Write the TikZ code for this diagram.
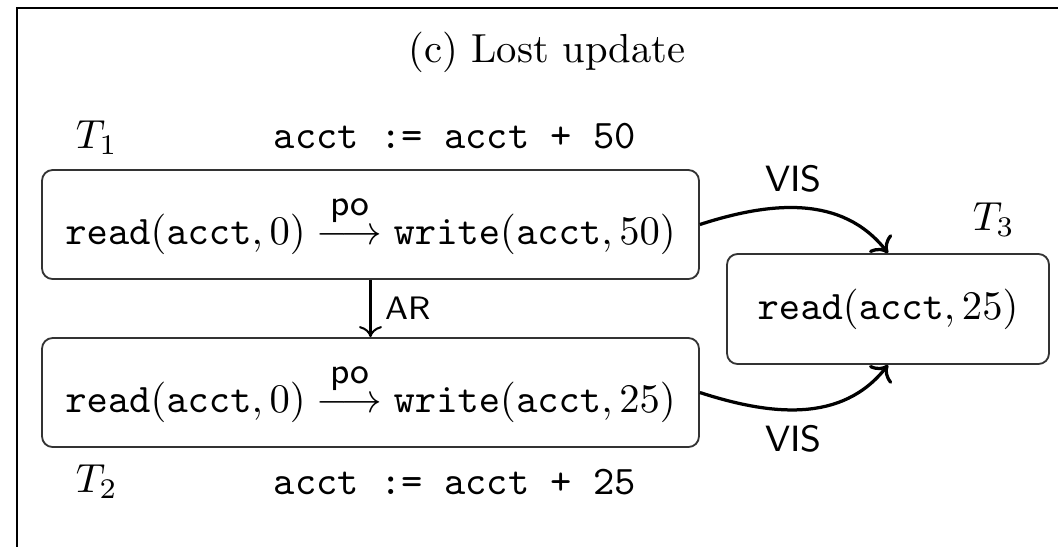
\documentclass[tikz,border=0pt]{standalone}
\usepackage{amsmath}
\usetikzlibrary{arrows.meta}
\newcommand{\poarrow}{\mathrel{\mathop{\longrightarrow}\limits^{\raisebox{1.6pt}{\small\sffamily po}}}}
\begin{document}
\begin{tikzpicture}[x=0.2463pt,y=0.2463pt,
  txbox/.style={draw=black!80, line width=0.45pt, rounded corners=2.6pt, inner sep=0pt},
  vis/.style={->, line width=0.8pt},
  lbl/.style={font=\sffamily}]
\useasboundingbox (0,0) rectangle (1058,-547);
% frame
\draw[line width=0.6pt] (1058,-8) -- (17,-8) -- (17,-547);
% title
\node (title) at (547,-52) {(c) Lost update};
% boxes
\node[txbox, minimum width=161.8pt, minimum height=26.85pt] (b1) at (370.5,-224.5)
  {$\mathtt{read}(\mathtt{acct},0)\poarrow\mathtt{write}(\mathtt{acct},50)$};
\node[txbox, minimum width=161.8pt, minimum height=26.85pt] (b2) at (370.5,-392.5)
  {$\mathtt{read}(\mathtt{acct},0)\poarrow\mathtt{write}(\mathtt{acct},25)$};
\node[txbox, minimum width=79.3pt, minimum height=27.1pt] (b3) at (888,-309)
  {$\mathtt{read}(\mathtt{acct},25)$};
% labels
\node[anchor=base west, inner sep=0pt] (t1) at (75,-148) {$T_1$};
\node[anchor=base west, inner sep=0pt] (c1) at (273,-148) {\texttt{acct := acct + 50}};
\node[anchor=base west, inner sep=0pt] (t2) at (75,-492) {$T_2$};
\node[anchor=base west, inner sep=0pt] (c2) at (273,-494) {\texttt{acct := acct + 25}};
\node[anchor=base west, inner sep=0pt] (t3) at (972,-230) {$T_3$};
% edges
\draw[->, line width=0.5pt] (b1.south) -- (b2.north)
  node[midway, right, lbl, font=\sffamily\footnotesize] {AR};
\draw[vis] (b1.east) to[out=18, in=128] node[pos=0.45, above, lbl, font=\sffamily\small] {VIS} (b3.north);
\draw[vis] (b2.east) to[out=-18, in=-128] node[pos=0.45, below, lbl, font=\sffamily\small] {VIS} (b3.south);
\end{tikzpicture}
\end{document}
